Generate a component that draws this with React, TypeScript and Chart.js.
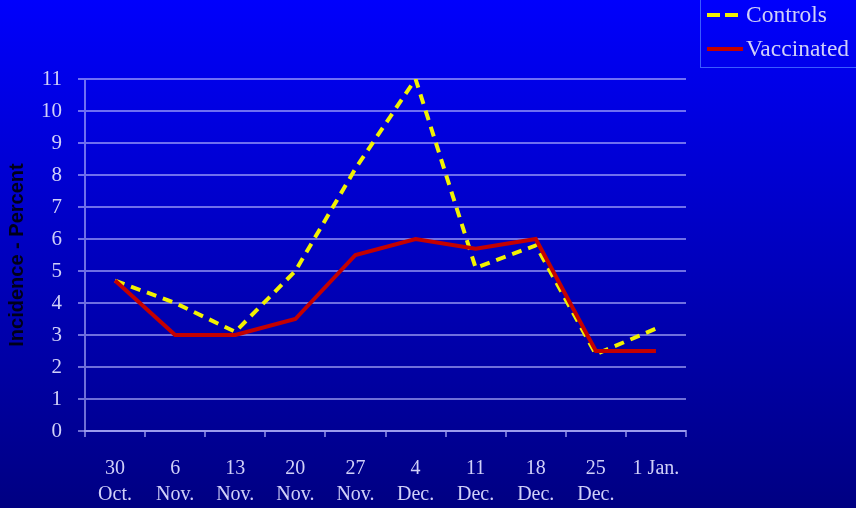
import { useEffect, useRef } from 'react';
import { Chart, registerables } from 'chart.js';

Chart.register(...registerables);

// Weekly survey dates (day on first line, month on second)
const weekLabels: string[][] = [
  ['30', 'Oct.'],
  ['6', 'Nov.'],
  ['13', 'Nov.'],
  ['20', 'Nov.'],
  ['27', 'Nov.'],
  ['4', 'Dec.'],
  ['11', 'Dec.'],
  ['18', 'Dec.'],
  ['25', 'Dec.'],
  ['1 Jan.'],
];

// Incidence in percent per week
const controlsIncidence = [4.7, 4.0, 3.1, 5.0, 8.2, 11.0, 5.1, 5.8, 2.4, 3.2];
const vaccinatedIncidence = [4.7, 3.0, 3.0, 3.5, 5.5, 6.0, 5.7, 6.0, 2.5, 2.5];

const yTickMin = 0;
const yTickMax = 11;

const SERIF = '"Liberation Serif", "Times New Roman", serif';
const SANS = '"Liberation Sans", Arial, sans-serif';
const LIGHT_TEXT = '#d0d0f8';
const GRID = 'rgba(185,185,255,0.6)';

const slideBackground = {
  id: 'slideBackground',
  beforeDraw(chart: any) {
    const { ctx, width, height } = chart;
    const g = ctx.createLinearGradient(0, 0, 0, height);
    g.addColorStop(0, '#0000fc');
    g.addColorStop(1, '#000082');
    ctx.save();
    ctx.fillStyle = g;
    ctx.fillRect(0, 0, width, height);
    ctx.restore();
  },
};

// Boxed legend in the top-right corner
const boxedLegend = {
  id: 'boxedLegend',
  afterDraw(chart: any) {
    const { ctx } = chart;
    const datasets = chart.data.datasets;
    ctx.save();
    ctx.strokeStyle = '#3a5cff';
    ctx.lineWidth = 1;
    ctx.strokeRect(700.5, -1, 160, 68.5);
    const rows = [15, 49];
    ctx.font = `23.5px ${SERIF}`;
    ctx.textBaseline = 'middle';
    ctx.textAlign = 'left';
    datasets.forEach((ds: any, i: number) => {
      const y = rows[i];
      const dashed = ds.borderDash && ds.borderDash.length;
      ctx.beginPath();
      ctx.strokeStyle = ds.borderColor;
      ctx.lineWidth = 4;
      ctx.setLineDash(dashed ? [13, 5] : []);
      ctx.moveTo(707, y);
      ctx.lineTo(dashed ? 738 : 743, y);
      ctx.stroke();
      ctx.setLineDash([]);
      ctx.fillStyle = LIGHT_TEXT;
      ctx.fillText(ds.label, 746, y + 1);
    });
    ctx.restore();
  },
};

export default function App() {
  const canvasRef = useRef<HTMLCanvasElement | null>(null);

  useEffect(() => {
    if (!canvasRef.current) return;
    const chart = new Chart(canvasRef.current, {
      type: 'line',
      data: {
        labels: weekLabels,
        datasets: [
          {
            label: 'Controls',
            data: controlsIncidence,
            borderColor: '#f2f200',
            borderWidth: 4,
            borderDash: [10, 7],
            pointRadius: 0,
            tension: 0,
            fill: false,
            order: 1,
          },
          {
            label: 'Vaccinated',
            data: vaccinatedIncidence,
            borderColor: '#c40000',
            borderWidth: 4,
            pointRadius: 0,
            tension: 0,
            fill: false,
            order: 0,
          },
        ],
      },
      options: {
        animation: false,
        responsive: false,
        maintainAspectRatio: false,
        layout: { padding: { top: 79, right: 170, bottom: 0, left: 0 } },
        plugins: {
          legend: { display: false },
          tooltip: { enabled: false },
        },
        scales: {
          x: {
            type: 'category',
            offset: true,
            grid: {
              offset: true,
              drawOnChartArea: false,
              drawTicks: true,
              tickLength: 6,
              color: GRID,
              lineWidth: 2,
            },
            border: { display: true, color: GRID, width: 2 },
            ticks: {
              color: LIGHT_TEXT,
              padding: 19,
              maxRotation: 0,
              autoSkip: false,
              font: { family: SERIF, size: 20, lineHeight: 1.3 },
            },
            afterFit(scale: any) {
              scale.height = 77;
            },
          },
          y: {
            min: yTickMin,
            max: yTickMax,
            grid: {
              color: GRID,
              lineWidth: 2,
              drawTicks: true,
              tickLength: 7,
            },
            border: { display: true, color: GRID, width: 2 },
            ticks: {
              stepSize: 1,
              color: LIGHT_TEXT,
              padding: 16,
              font: { family: SERIF, size: 21 },
            },
            title: {
              display: true,
              text: 'Incidence - Percent',
              color: '#000018',
              padding: { top: 5, bottom: 4 },
              font: { family: SANS, size: 20, weight: 'bold' },
            },
            afterFit(scale: any) {
              scale.width = 85;
            },
          },
        },
      },
      plugins: [slideBackground, boxedLegend],
    } as any);
    return () => chart.destroy();
  }, []);

  return (
    <div style={{ position: 'fixed', left: 0, top: 0, width: 856, height: 508 }}>
      <canvas ref={canvasRef} width={856} height={508} style={{ display: 'block' }} />
    </div>
  );
}
